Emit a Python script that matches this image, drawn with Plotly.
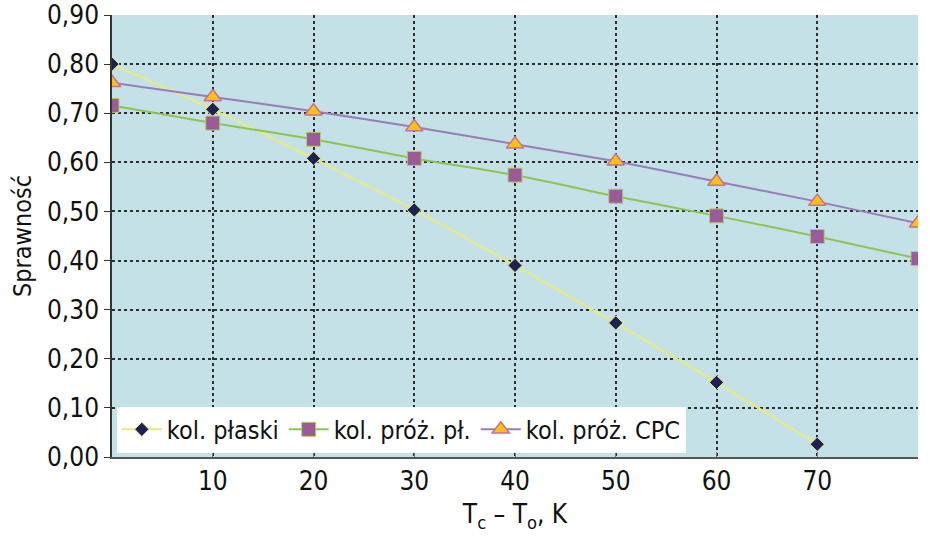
import plotly.graph_objects as go

x_vals = [0, 10, 20, 30, 40, 50, 60, 70, 80]
plaski_x = [0, 10, 20, 30, 40, 50, 60, 70]
plaski = [0.800, 0.708, 0.608, 0.503, 0.390, 0.273, 0.152, 0.026]
proz_pl = [0.716, 0.680, 0.647, 0.608, 0.574, 0.531, 0.491, 0.449, 0.404]
proz_cpc = [0.762, 0.733, 0.704, 0.672, 0.637, 0.602, 0.561, 0.520, 0.476]
names = ["kol. płaski", "kol. próż. pł.", "kol. próż. CPC"]
x_ticks = [10, 20, 30, 40, 50, 60, 70, 80]
x_ticktext = ["10", "20", "30", "40", "50", "60", "70", ""]
y_ticks = [0, 0.1, 0.2, 0.3, 0.4, 0.5, 0.6, 0.7, 0.8, 0.9]

FONT = "DejaVu Sans Condensed, Roboto, sans-serif"

fig = go.Figure()
fig.add_trace(go.Scatter(
    x=plaski_x, y=plaski, name=names[0], mode="lines+markers",
    line=dict(color="#e9ea7c", width=2, shape="spline", smoothing=0.6),
    marker=dict(symbol="diamond", size=11, color="#1e2156",
                line=dict(color="#e9ea7c", width=1))))
fig.add_trace(go.Scatter(
    x=x_vals, y=proz_pl, name=names[1], mode="lines+markers",
    line=dict(color="#8dc453", width=2, shape="spline", smoothing=0.6),
    marker=dict(symbol="square", size=14, color="#9b5a98",
                line=dict(color="#b5cc6a", width=1))))
fig.add_trace(go.Scatter(
    x=x_vals, y=proz_cpc, name=names[2], mode="lines+markers",
    line=dict(color="#9a7cb8", width=2, shape="spline", smoothing=0.6),
    marker=dict(symbol="triangle-up", size=15, color="#fcc20f",
                line=dict(color="#c9708f", width=1.5))))

fig.update_layout(
    width=930, height=542,
    margin=dict(l=112, r=12, t=15, b=85),
    paper_bgcolor="white", plot_bgcolor="#c4e1e8",
    separators=", ",
    font=dict(family=FONT, size=24, color="#111111"),
    showlegend=True,
    legend=dict(orientation="h", x=0.006, y=0.01, xanchor="left", yanchor="bottom",
                bgcolor="white", font=dict(family=FONT, size=25, color="#111111"),
                itemwidth=40, tracegroupgap=0),
    xaxis=dict(range=[0, 80], tickvals=x_ticks, ticktext=x_ticktext, automargin=False,
               showgrid=True, gridcolor="#2e2e2e", griddash="dot", gridwidth=1.6,
               zeroline=False, showline=True, linecolor="#555555", linewidth=2,
               ticks="inside", ticklen=5, tickcolor="#777777",
               tickfont=dict(family=FONT, size=26),
               title=dict(text="T<sub>c</sub> – T<sub>o</sub>, K",
                          font=dict(family=FONT, size=26), standoff=10)),
    yaxis=dict(range=[0, 0.9], tickvals=y_ticks, tickformat=".2f",
               ticklabeloverflow="allow", automargin=False,
               showgrid=True, gridcolor="#2e2e2e", griddash="dot", gridwidth=1.6,
               zeroline=False, showline=True, linecolor="#333333", linewidth=1.5,
               ticks="outside", ticklen=6, tickcolor="#333333",
               tickfont=dict(family=FONT, size=26),
               title=dict(text="Sprawność", font=dict(family=FONT, size=25), standoff=8)),
)

fig.write_html("out.html")
